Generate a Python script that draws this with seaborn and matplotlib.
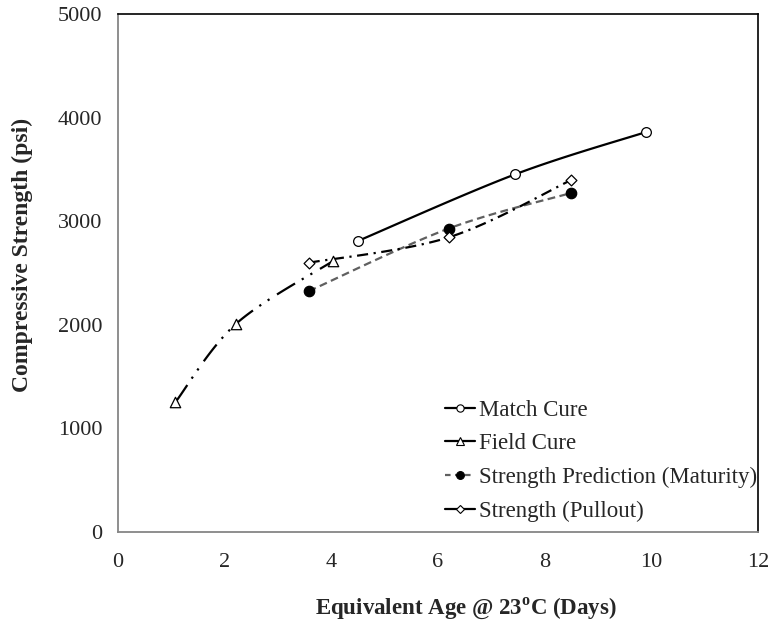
import numpy as np
import matplotlib
matplotlib.use("Agg")
import matplotlib.pyplot as plt
from matplotlib.lines import Line2D
import seaborn as sns

# Compressive strength vs. equivalent age
match_age = [4.50, 7.45, 9.91]
match_strength = [2810, 3455, 3865]

field_age = [1.08, 2.22, 4.03]
field_strength = [1250, 2010, 2615]

maturity_age = [3.58, 6.20, 8.50]
maturity_strength = [2325, 2930, 3275]

pullout_age = [3.58, 6.20, 8.50]
pullout_strength = [2600, 2845, 3400]

series_labels = ["Match Cure", "Field Cure",
                 "Strength Prediction (Maturity)", "Strength (Pullout)"]
x_ticks = [0, 2, 4, 6, 8, 10, 12]
y_ticks = [0, 1000, 2000, 3000, 4000, 5000]

sns.set_theme(style="white")
plt.rcParams["font.family"] = ["Liberation Serif", "DejaVu Serif"]
plt.rcParams["mathtext.fontset"] = "custom"
plt.rcParams["mathtext.rm"] = "Liberation Serif"
plt.rcParams["mathtext.bf"] = "Liberation Serif:bold"

fig = plt.figure(figsize=(7.69, 6.22), dpi=100)
ax = fig.add_axes([0.153, 0.1452, 0.8327, 0.8315])
ax.set_xlim(0, 12)
ax.set_ylim(0, 5000)


def smooth(ax, xs, ys, n=60):
    """Bezier smoothing of a polyline, computed in screen space."""
    pts = ax.transData.transform(np.column_stack([xs, ys]))
    padded = np.vstack([pts[0], pts, pts[-1]])
    t = np.linspace(0, 1, n)[:, None]
    pieces = []
    for i in range(len(pts) - 1):
        p0, p1, p2, p3 = padded[i], padded[i + 1], padded[i + 2], padded[i + 3]
        c1 = p1 + (p2 - p0) / 6
        c2 = p2 - (p3 - p1) / 6
        seg = ((1 - t) ** 3) * p1 + 3 * ((1 - t) ** 2) * t * c1 \
            + 3 * (1 - t) * (t ** 2) * c2 + (t ** 3) * p2
        pieces.append(seg if i == 0 else seg[1:])
    curve = ax.transData.inverted().transform(np.vstack(pieces))
    return curve[:, 0], curve[:, 1]


styles = [
    dict(x=match_age, y=match_strength, color="black",
         ls="-", marker="o", mfc="white", ms=7),
    dict(x=field_age, y=field_strength, color="black",
         ls=(0, (9.5, 3.5, 1, 3.5, 1, 4)), marker="^", mfc="white", ms=7.5),
    dict(x=maturity_age, y=maturity_strength, color="#606060",
         ls=(0, (3.5, 2)), marker="o", mfc="black", ms=7.5),
    dict(x=pullout_age, y=pullout_strength, color="black",
         ls=(0, (5, 2.5, 1, 2.5)), marker="D", mfc="white", ms=5.5),
]
legend_ls = ["-", "-", (0, (2.5, 2)), "-"]

lw = 1.6
handles = []
for st, label, hls in zip(styles, series_labels, legend_ls):
    cx, cy = smooth(ax, st["x"], st["y"])
    sns.lineplot(x=cx, y=cy, sort=False, estimator=None, ax=ax,
                 color=st["color"], linewidth=lw, linestyle=st["ls"],
                 zorder=2)
    sns.scatterplot(x=st["x"], y=st["y"], ax=ax, marker=st["marker"],
                    s=st["ms"] ** 2, color=st["mfc"], edgecolor="black",
                    linewidth=0.9, zorder=3)
    handles.append(Line2D([], [], color=st["color"], linewidth=lw,
                          linestyle=hls, marker=st["marker"],
                          markersize=st["ms"] * 0.75, markerfacecolor=st["mfc"],
                          markeredgecolor="black", markeredgewidth=0.8))

ax.set_xticks(x_ticks)
ax.set_yticks(y_ticks)
ax.tick_params(axis="both", which="major", direction="out", length=4,
               width=1, color="#868686", labelsize=16)
ax.tick_params(axis="x", pad=11)
ax.tick_params(axis="y", pad=7)

for side in ["left", "bottom"]:
    ax.spines[side].set_color("#868686")
    ax.spines[side].set_linewidth(1.3)
for side in ["top", "right"]:
    ax.spines[side].set_color("black")
    ax.spines[side].set_linewidth(1.2)

ax.set_xlabel(r"Equivalent Age @ 23$^{\mathbf{o}}$C (Days)",
              fontsize=16.5, fontweight="bold")
ax.set_ylabel("Compressive Strength (psi)", fontsize=17, fontweight="bold")
ax.xaxis.set_label_coords(0.544, -0.124)
ax.yaxis.set_label_coords(-0.132, 0.535)

ax.legend(handles=handles, labels=series_labels, loc="upper left",
          bbox_to_anchor=(0.511, 0.255), frameon=False, fontsize=16.5,
          handlelength=1.3, handletextpad=0.2, labelspacing=0.55,
          borderaxespad=0, borderpad=0)

fig.savefig("out.png", dpi=100)
